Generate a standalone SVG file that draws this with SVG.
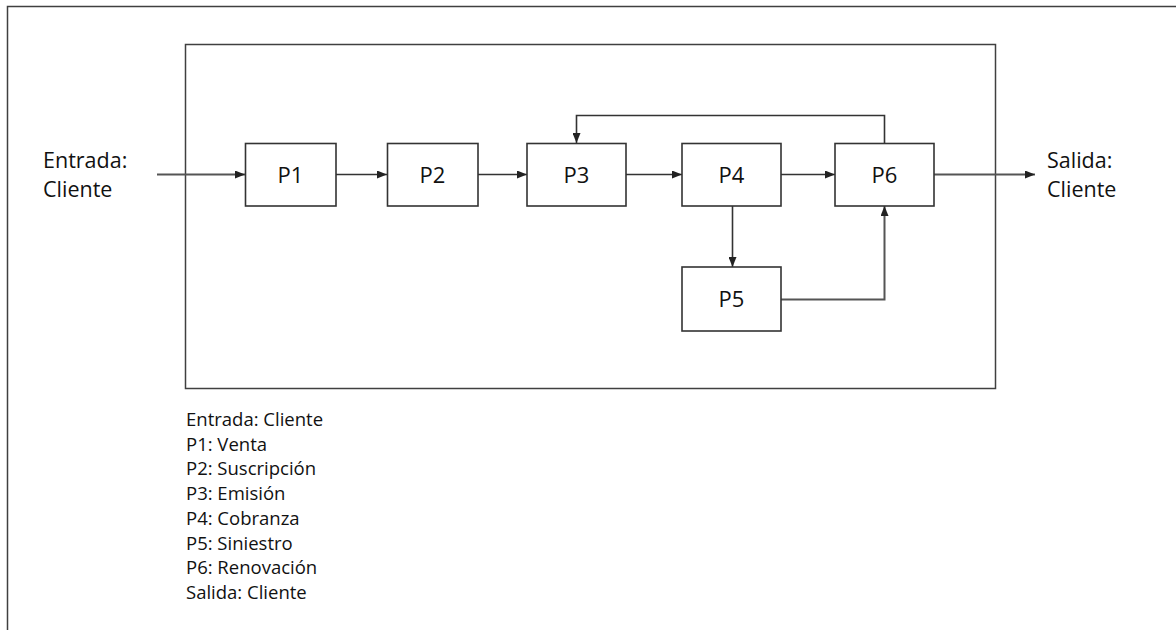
<svg xmlns="http://www.w3.org/2000/svg" width="1176" height="630" viewBox="0 0 1176 630">
<defs>
<style>
.frame{fill:none;stroke:#404040;stroke-width:1.5}
.box{fill:#fff;stroke:#333;stroke-width:1.6}
.lbl{font-family:"Open Sans","Noto Sans",sans-serif;font-size:22px;fill:#111;text-anchor:middle}
.side{font-family:"Open Sans","Noto Sans",sans-serif;font-size:21.5px;fill:#111}
.leg{font-family:"Open Sans","Noto Sans",sans-serif;font-size:18.5px;fill:#111}
.con{fill:none;stroke:#333;stroke-width:1.6}
.con2{fill:none;stroke:#555;stroke-width:2}
</style>
<marker id="ah" viewBox="0 0 10 8" refX="10" refY="4" markerWidth="10" markerHeight="8" markerUnits="userSpaceOnUse" orient="auto">
<path d="M0,0 L10,4 L0,8 z" fill="#222"/>
</marker>
</defs>
<rect width="1176" height="630" fill="#fff"/>
<g id="outer-frame">
<path class="frame" d="M7.5,630 V6.5 H1176"/>
</g>
<g id="system-boundary">
<rect class="frame" x="185.5" y="44.5" width="810" height="344"/>
</g>
<g id="connectors">
<line class="con2" x1="157" y1="174.5" x2="245" y2="174.5" marker-end="url(#ah)"/>
<line class="con" x1="336" y1="174.5" x2="387" y2="174.5" marker-end="url(#ah)"/>
<line class="con" x1="478" y1="174.5" x2="527" y2="174.5" marker-end="url(#ah)"/>
<line class="con" x1="626" y1="174.5" x2="682" y2="174.5" marker-end="url(#ah)"/>
<line class="con" x1="781" y1="174.5" x2="835" y2="174.5" marker-end="url(#ah)"/>
<line class="con2" x1="934" y1="174.5" x2="1035" y2="174.5" marker-end="url(#ah)"/>
<path class="con" d="M884.5,143 V115.5 H576.5 V143" marker-end="url(#ah)"/>
<line class="con" x1="732.5" y1="206" x2="732.5" y2="267" marker-end="url(#ah)"/>
<path class="con2" d="M781,299.5 H884.5 V206" marker-end="url(#ah)"/>
</g>
<g id="entrada">
<text class="side" x="43" y="168">Entrada:</text>
<text class="side" x="43" y="197">Cliente</text>
</g>
<g id="salida">
<text class="side" x="1047" y="168">Salida:</text>
<text class="side" x="1047" y="197">Cliente</text>
</g>
<g id="P1"><rect class="box" x="245.5" y="143.5" width="90.5" height="62.5"/><text class="lbl" x="290.5" y="182.5">P1</text></g>
<g id="P2"><rect class="box" x="387.5" y="143.5" width="90.5" height="62.5"/><text class="lbl" x="432.5" y="182.5">P2</text></g>
<g id="P3"><rect class="box" x="527" y="143.5" width="99" height="62.5"/><text class="lbl" x="576.5" y="182.5">P3</text></g>
<g id="P4"><rect class="box" x="682" y="143.5" width="99" height="62.5"/><text class="lbl" x="731.5" y="182.5">P4</text></g>
<g id="P6"><rect class="box" x="835" y="143.5" width="99" height="62.5"/><text class="lbl" x="884.5" y="182.5">P6</text></g>
<g id="P5"><rect class="box" x="682" y="267" width="99" height="64"/><text class="lbl" x="731.5" y="307">P5</text></g>
<g id="legend">
<text class="leg" x="186" y="426">Entrada: Cliente</text>
<text class="leg" x="186" y="450.7">P1: Venta</text>
<text class="leg" x="186" y="475.4">P2: Suscripción</text>
<text class="leg" x="186" y="500.1">P3: Emisión</text>
<text class="leg" x="186" y="524.8">P4: Cobranza</text>
<text class="leg" x="186" y="549.5">P5: Siniestro</text>
<text class="leg" x="186" y="574.2">P6: Renovación</text>
<text class="leg" x="186" y="599">Salida: Cliente</text>
</g>
</svg>
